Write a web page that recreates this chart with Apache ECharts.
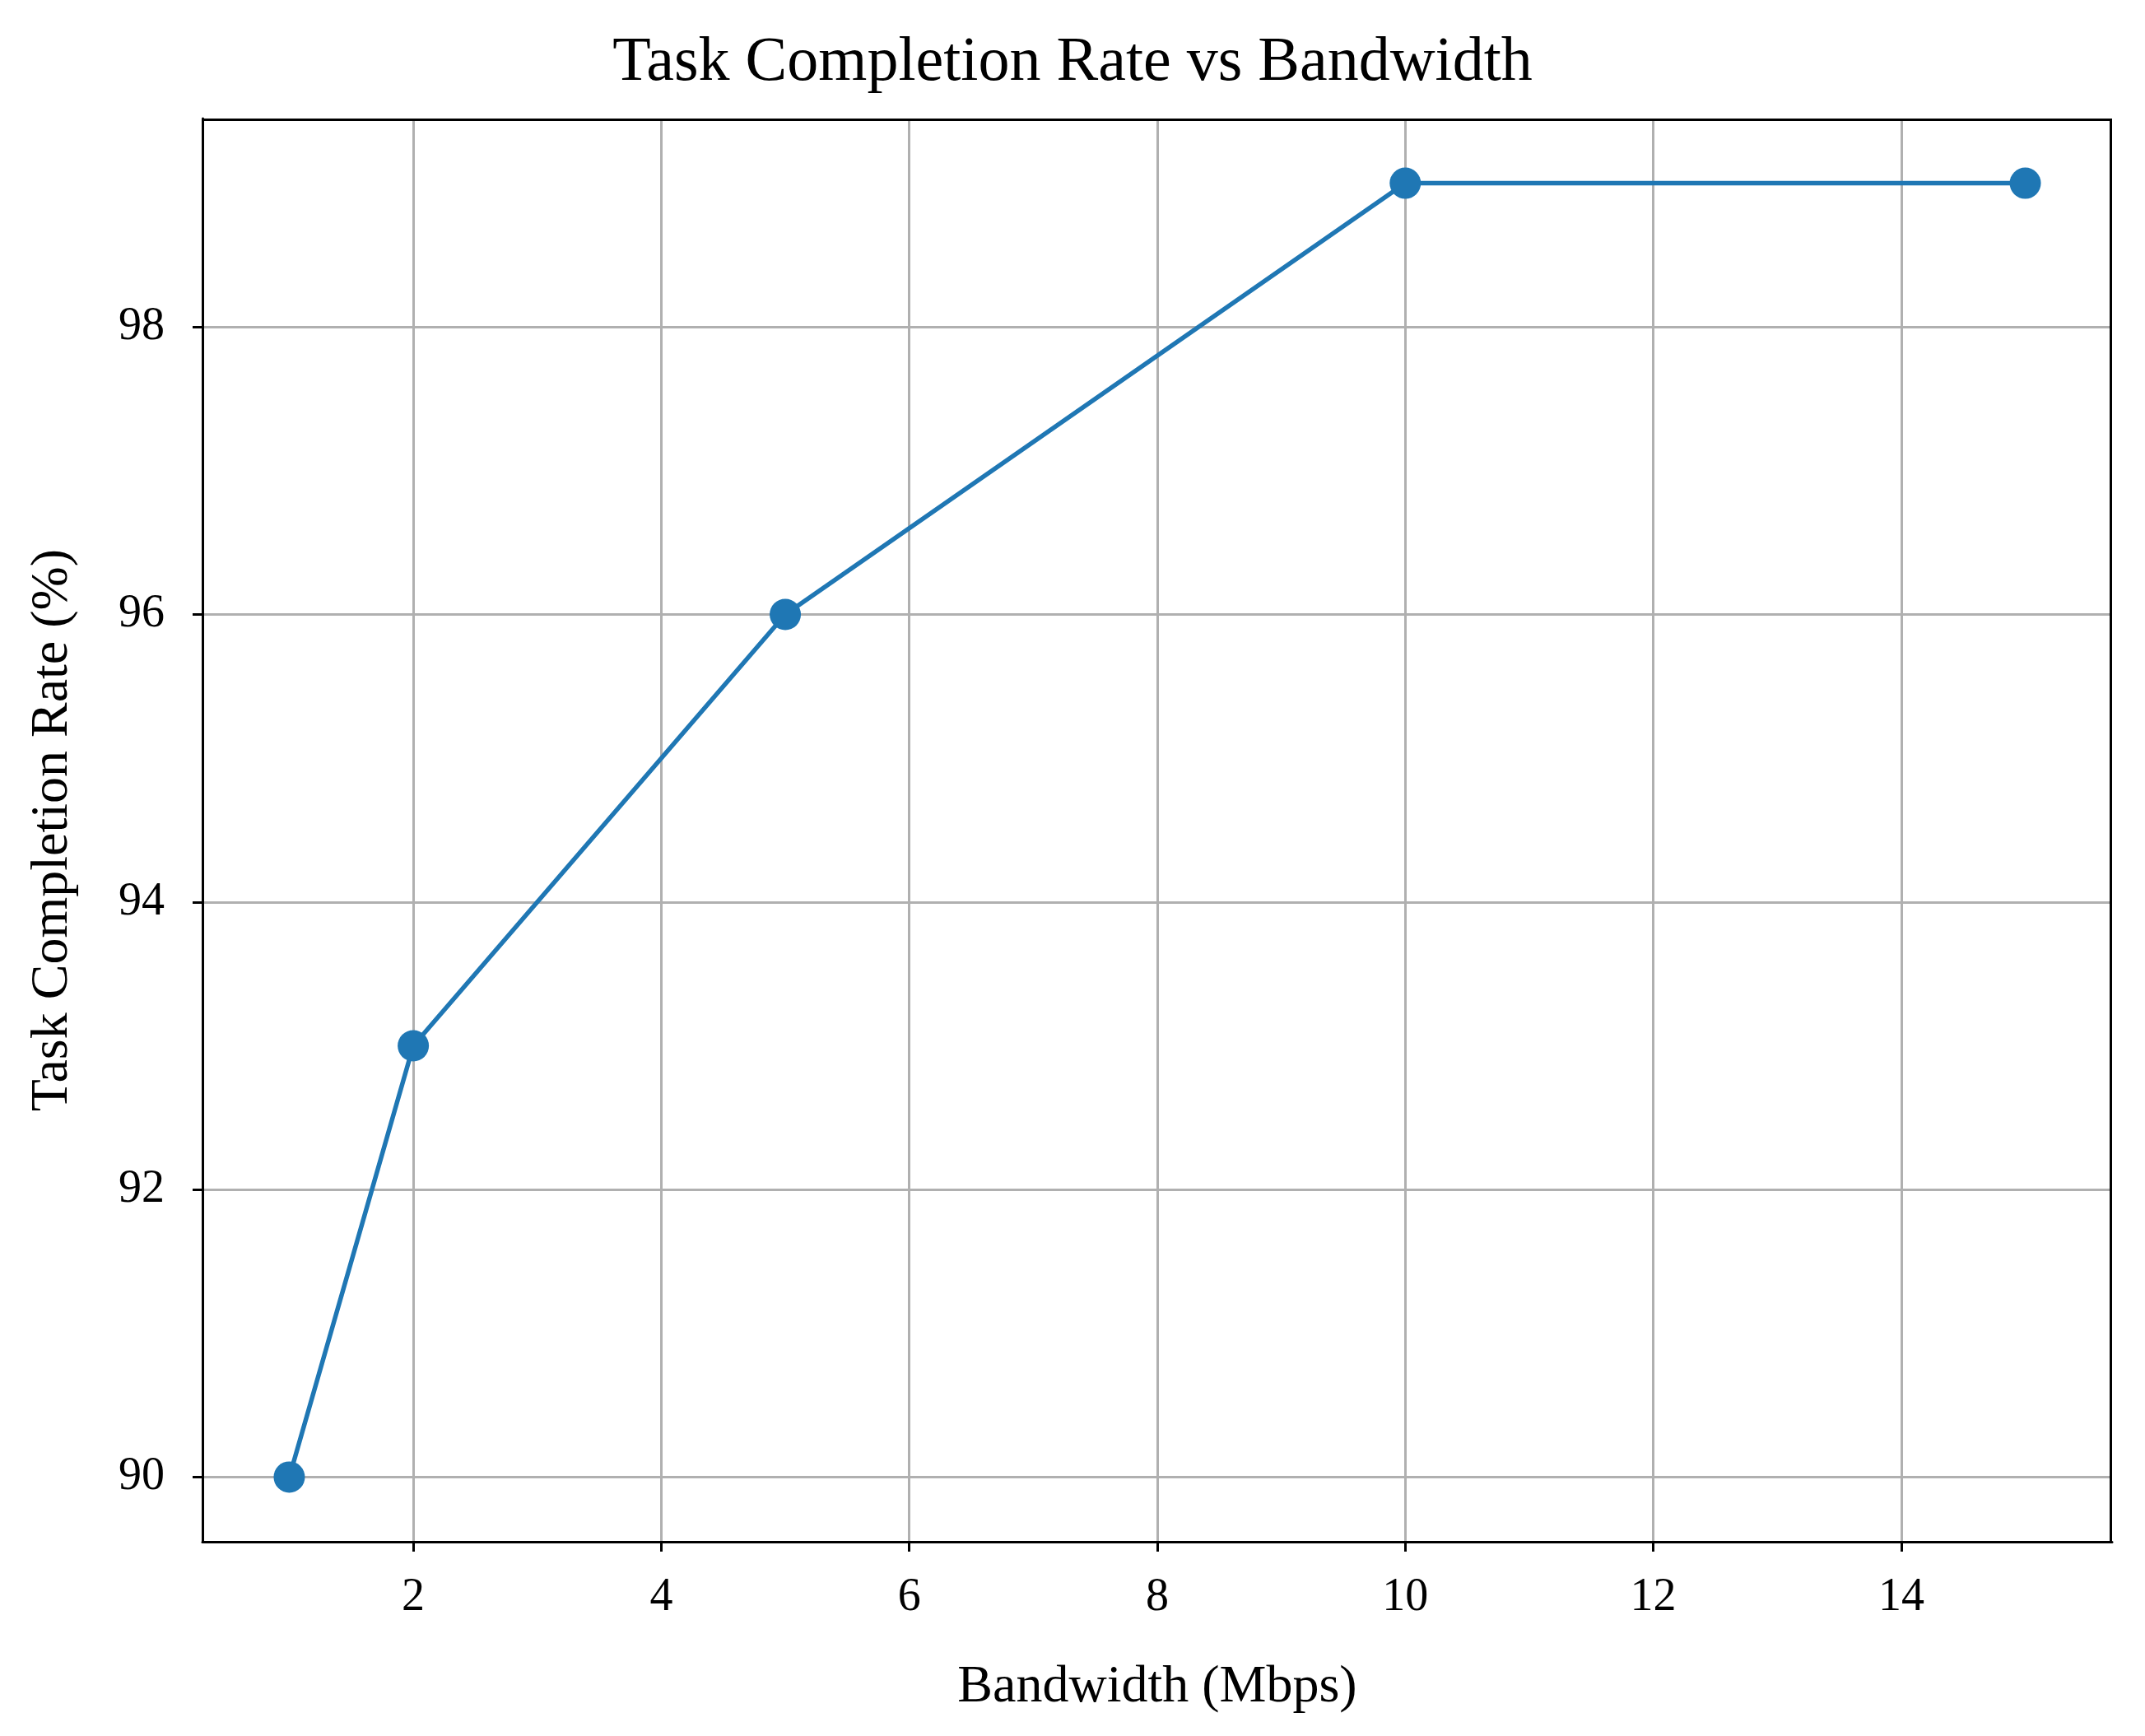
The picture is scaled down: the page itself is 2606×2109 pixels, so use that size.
<!DOCTYPE html>
<html><head><meta charset="utf-8">
<script src="https://cdn.jsdelivr.net/npm/echarts@6/dist/echarts.min.js"></script>
<style>html,body{margin:0;padding:0;background:#fff}#c{width:2606px;height:2109px}</style>
</head><body><div id="c"></div>
<script>
const bandwidth = [1, 2, 5, 10, 15];
const completion = [90, 93, 96, 99, 99];
const xTicks = [2, 4, 6, 8, 10, 12, 14];
const yTicks = [90, 92, 94, 96, 98];
const font = 'Liberation Serif';
const chart = echarts.init(document.getElementById('c'));
chart.setOption({
  animation: false,
  backgroundColor: '#fff',
  title: {text: 'Task Completion Rate vs Bandwidth', left: 'center', top: 34,
    textStyle: {fontFamily: font, fontSize: 76, fontWeight: 'normal', color: '#000'}},
  grid: {left: 246, right: 40, top: 144, bottom: 236},
  xAxis: {type: 'value', min: 0.3, max: 15.7, interval: 2,
    name: 'Bandwidth (Mbps)', nameLocation: 'middle', nameGap: 145,
    nameTextStyle: {fontFamily: font, fontSize: 64, color: '#000'},
    axisLine: {lineStyle: {color: '#000', width: 3}},
    axisTick: {show: true, length: 12, lineStyle: {color: '#000', width: 3}, customValues: xTicks},
    axisLabel: {fontFamily: font, fontSize: 56, color: '#000', margin: 40, customValues: xTicks},
    splitLine: {show: true, lineStyle: {color: '#b0b0b0', width: 3}, customValues: xTicks}
  },
  yAxis: {type: 'value', min: 89.55, max: 99.45,
    name: 'Task Completion Rate (%)', nameLocation: 'middle', nameGap: 150,
    nameTextStyle: {fontFamily: font, fontSize: 64, color: '#000'},
    axisLine: {show: true, lineStyle: {color: '#000', width: 3}},
    axisTick: {show: true, length: 12, lineStyle: {color: '#000', width: 3}, customValues: yTicks},
    axisLabel: {fontFamily: font, fontSize: 56, color: '#000', margin: 46, customValues: yTicks},
    splitLine: {show: true, lineStyle: {color: '#b0b0b0', width: 3}, customValues: yTicks}
  },
  series: [{type: 'line', data: bandwidth.map((b, i) => [b, completion[i]]),
    symbol: 'circle', symbolSize: 38, lineStyle: {color: '#1f77b4', width: 5.5},
    itemStyle: {color: '#1f77b4'}}]
});
</script>
<div style="position:absolute;left:0;top:0;width:2606px;height:2109px;pointer-events:none">
<div style="position:absolute;left:246px;top:144px;width:2317px;height:1726px;border:3px solid #000;border-left:none;border-bottom:none"></div>
</div>
</body></html>
